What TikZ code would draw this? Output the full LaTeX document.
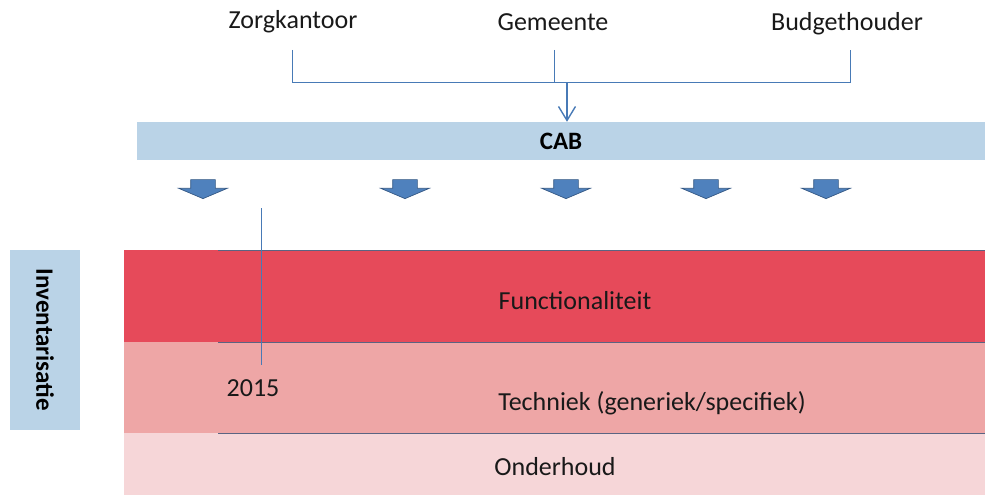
\documentclass[tikz,border=0pt]{standalone}
\usepackage{fontspec}
\setmainfont{Carlito}
\usetikzlibrary{shapes,arrows,positioning,calc,arrows.meta}

\definecolor{cabblue}{RGB}{186,211,231}
\definecolor{lineblue}{RGB}{72,122,182}
\definecolor{arrowblue}{RGB}{79,129,189}
\definecolor{arrowedge}{RGB}{52,88,132}
\definecolor{funcred}{RGB}{230,74,90}
\definecolor{techpink}{RGB}{238,166,166}
\definecolor{onderpink}{RGB}{246,214,216}
\definecolor{bandline}{RGB}{90,100,130}

\tikzset{
  party/.style={font=\fontsize{26}{30}\selectfont, text=black!90},
  bandtext/.style={font=\fontsize{26}{30}\selectfont, text=black!90},
  bracket/.style={draw=lineblue, line width=1pt},
  downarrow/.style={single arrow, rotate=-90, fill=arrowblue,
    draw=arrowedge, line width=0.7pt, inner xsep=0pt, inner ysep=12pt,
    minimum height=19pt, single arrow head extend=12pt,
    single arrow tip angle=134},
}

\begin{document}
\begin{tikzpicture}[x=1pt,y=-1pt]
    \useasboundingbox (0,0) rectangle (985,495);

    % the three parties
    \node[party] (zorg) at (293,22) {Zorgkantoor};
    \node[party] (gem) at (553,22) {Gemeente};
    \node[party] (budget) at (847,24) {Budgethouder};

    % CAB bar
    \node[fill=cabblue, minimum width=848, minimum height=38, inner sep=0pt,
      font=\fontsize{25}{30}\selectfont\bfseries] (cab) at (561,141) {CAB};

    % bracket into CAB
    \coordinate (zorgb) at (292,82);
    \coordinate (gemb) at (554,82);
    \coordinate (budgetb) at (850,82);
    \coordinate (join) at (567,82);
    \draw[bracket] (292,50) -- (zorgb) -- (budgetb) -- (850,50);
    \draw[bracket] (554,50) -- (gemb);
    \draw[bracket, line width=1.4pt, -{Straight Barb[length=14pt,width=17pt]}] (join) -- (join |- cab.north);

    % arrows below CAB
    \foreach \x/\n in {203/a1,405/a2,566/a3,706/a4,826/a5}
      \node[downarrow] (\n) at (\x,186.5) {};

    % bands
    \fill[funcred] (124,250) rectangle (985,342);
    \fill[techpink] (124,342) rectangle (985,433);
    \fill[onderpink] (124,433) rectangle (985,495);
    \foreach \y in {250,342,433}
      \draw[bandline, line width=0.8pt] (218,\y) -- (985,\y);

    \node[bandtext] (func) at (575,301) {Functionaliteit};
    \node[bandtext] (tech) at (652,403) {Techniek (generiek/specifiek)};
    \node[bandtext] (onder) at (555,467) {Onderhoud};

    % year marker
    \node[bandtext] (year) at (253,388) {2015};
    \draw[lineblue, line width=0.8pt] (261,208) -- (261,365);

    % side label
    \node[fill=cabblue, rotate=-90, minimum width=180, minimum height=70,
      font=\fontsize{25}{30}\selectfont\bfseries] (inv) at (45,340) {Inventarisatie};
\end{tikzpicture}
\end{document}
